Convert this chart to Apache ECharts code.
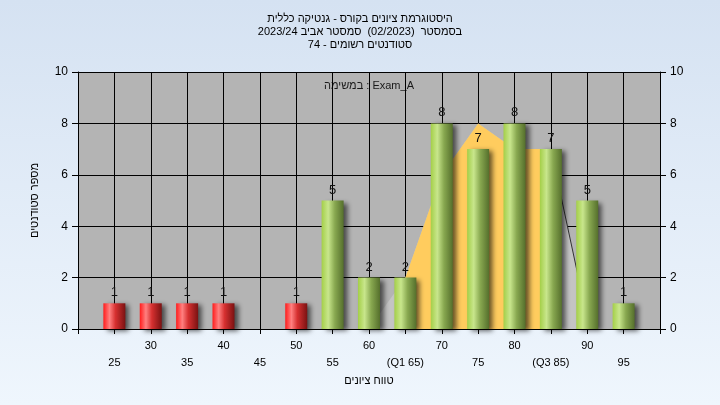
<!DOCTYPE html>
<html><head><meta charset="utf-8">
<style>html,body{margin:0;padding:0;}#c{width:720px;height:405px;background:linear-gradient(#d5e2f2,#eff6fd);}</style>
<script src="https://cdn.jsdelivr.net/npm/echarts@6/dist/echarts.min.js"></script>
</head><body><div id="c"></div>
<script>
const titleLines = ['היסטוגרמת ציונים בקורס - גנטיקה כללית', 'בסמסטר  (02/2023)  סמסטר אביב 2023/24', 'סטודנטים רשומים - 74'];
const subjectLabel = 'במשימה : Exam_A';
const xAxisTitle = 'טווח ציונים';
const yAxisTitle = 'מספר סטודנטים';
const gradeBins = [25, 30, 35, 40, 45, 50, 55, 60, 65, 70, 75, 80, 85, 90, 95];
const studentCounts = [1, 1, 1, 1, 0, 1, 5, 2, 2, 8, 7, 8, 7, 5, 1];
const passGrade = 55;
const tickLabelOverrides = {65: '(Q1 65)', 85: '(Q3 85)'};
const curveX = [60, 65, 70, 75, 80, 85, 90];
const curveY = [0, 2, 6, 8, 7, 7, 0.4];
const q1 = 65, q3 = 85;

const FONT = 'Liberation Sans, DejaVu Sans, sans-serif';

const G = echarts.graphic;
const redGrad = new G.LinearGradient(0, 0, 1, 0, [
  {offset: 0, color: '#ff1c1c'}, {offset: 0.28, color: '#ff8080'},
  {offset: 0.55, color: '#d63030'}, {offset: 1, color: '#7a1212'}]);
const greenGrad = new G.LinearGradient(0, 0, 1, 0, [
  {offset: 0, color: '#a4cf48'}, {offset: 0.3, color: '#c8e68c'},
  {offset: 0.6, color: '#88a850'}, {offset: 1, color: '#556f2c'}]);

const barData = gradeBins.map((g, i) => ({
  value: [g, studentCounts[i]],
  itemStyle: {color: g < passGrade ? redGrad : greenGrad}
})).filter(d => d.value[1] > 0);

const curveAll = curveX.map((x, i) => [x, curveY[i]]);
const curveMid = curveAll.filter(p => p[0] >= q1 && p[0] <= q3);
const curveTail = curveAll.filter(p => p[0] >= q3);

const chart = echarts.init(document.getElementById('c'));
chart.setOption({
  animation: false,
  textStyle: {fontFamily: FONT},
  title: {
    text: titleLines.join('\n'),
    left: 'center', top: 7,
    textStyle: {fontSize: 11, fontWeight: 'normal', lineHeight: 13, color: '#000', fontFamily: FONT}
  },
  graphic: [{
    type: 'text', x: 369, y: 86,
    style: {text: subjectLabel, align: 'center', verticalAlign: 'middle', fill: '#1a1a1a', font: '11px ' + FONT}
  }],
  grid: {left: 78, right: 60, top: 72, bottom: 76, show: true, backgroundColor: '#b4b4b4', borderWidth: 0},
  xAxis: {
    type: 'value', min: 20, max: 100, interval: 5,
    axisLine: {show: true, lineStyle: {color: '#000'}},
    axisTick: {show: true, length: 5, lineStyle: {color: '#000'}},
    axisLabel: {
      color: '#000', fontSize: 11, margin: 8, lineHeight: 17,
      formatter: v => {
        if (v <= 20 || v >= 100) return '';
        const idx = gradeBins.indexOf(v);
        const lbl = tickLabelOverrides[v] || String(v);
        return idx % 2 === 0 ? '\n' + lbl : lbl;
      }
    },
    splitLine: {show: true, lineStyle: {color: '#000', width: 1}},
    name: xAxisTitle, nameLocation: 'middle', nameGap: 45,
    nameTextStyle: {color: '#000', fontSize: 11}
  },
  yAxis: [{
    type: 'value', min: 0, max: 10, interval: 2, position: 'left',
    axisLine: {show: true, lineStyle: {color: '#000'}},
    axisTick: {show: true, length: 6, lineStyle: {color: '#000'}},
    axisLabel: {color: '#000', fontSize: 12, margin: 10},
    splitLine: {show: true, lineStyle: {color: '#000', width: 1}},
    name: yAxisTitle, nameLocation: 'middle', nameGap: 38,
    nameTextStyle: {color: '#000', fontSize: 11}
  }, {
    type: 'value', min: 0, max: 10, interval: 2, position: 'right',
    axisLine: {show: true, lineStyle: {color: '#000'}},
    axisTick: {show: true, length: 6, lineStyle: {color: '#000'}},
    axisLabel: {color: '#000', fontSize: 12, margin: 10},
    splitLine: {show: false}
  }],
  series: [{
    type: 'line', data: curveAll, symbol: 'none', z: 1,
    lineStyle: {width: 0}, areaStyle: {color: '#c4c4c4', opacity: 1}
  }, {
    type: 'line', data: curveMid, symbol: 'none', z: 2,
    lineStyle: {width: 0}, areaStyle: {color: '#ffcc5e', opacity: 1}
  }, {
    type: 'line', data: curveTail, symbol: 'none', z: 3,
    lineStyle: {width: 1, color: '#333'}
  }, {
    type: 'bar', data: barData, barWidth: 22, z: 5,
    itemStyle: {shadowColor: 'rgba(0,0,0,0.6)', shadowBlur: 5, shadowOffsetX: 4, shadowOffsetY: 2},
    label: {show: true, position: 'top', distance: 4, color: '#111', fontSize: 13,
      formatter: p => String(p.value[1])}
  }]
});
</script></body></html>
